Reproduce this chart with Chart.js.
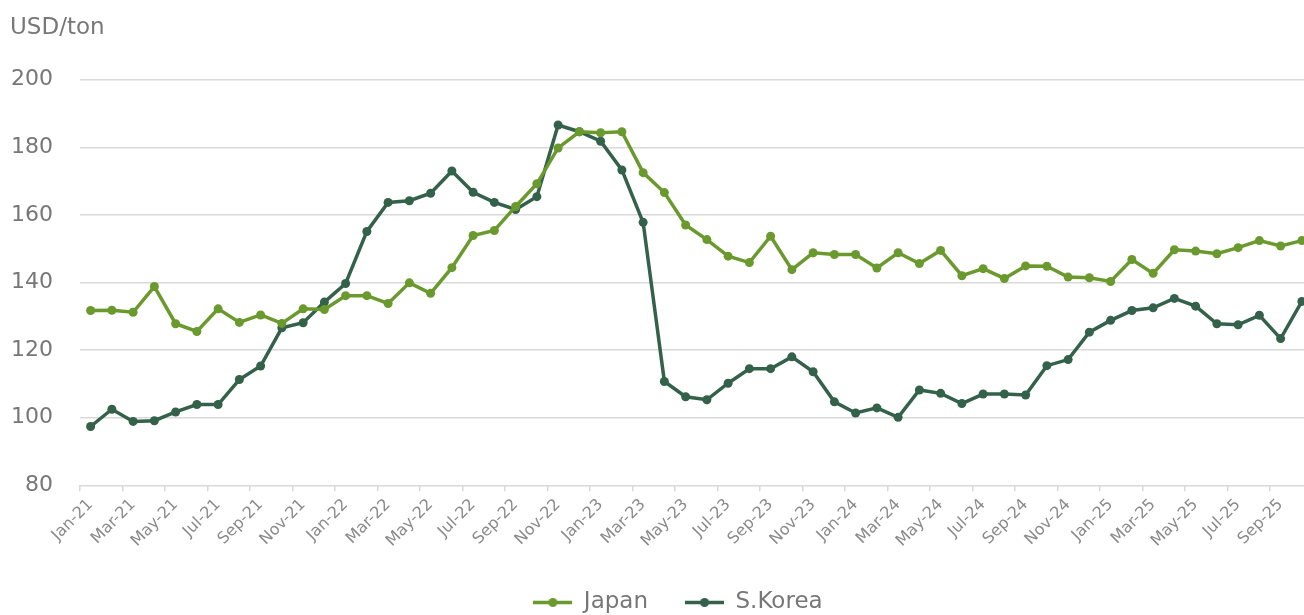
<!DOCTYPE html>
<html>
<head>
<meta charset="utf-8">
<title>Japan vs S.Korea, USD/ton</title>
<script src="https://cdn.jsdelivr.net/npm/chart.js@4"></script>
<style>
  html, body { margin: 0; padding: 0; background: #fff; overflow: hidden; }
  .frame { position: relative; width: 1304px; height: 615px; overflow: hidden; }
  .unit { position: absolute; left: 10px; top: 15px; font: 23px "DejaVu Sans", sans-serif; line-height: 23px; color: #777; }
  canvas { position: absolute; left: 0; top: 0; }
</style>
</head>
<body>
<div class="frame">
  <canvas id="chart" width="1356" height="624"></canvas>
  <div class="unit">USD/ton</div>
</div>
<script>
const MONTHS = [
  "Jan-21", "Feb-21", "Mar-21", "Apr-21", "May-21", "Jun-21", "Jul-21", "Aug-21", "Sep-21", "Oct-21", "Nov-21", "Dec-21",
  "Jan-22", "Feb-22", "Mar-22", "Apr-22", "May-22", "Jun-22", "Jul-22", "Aug-22", "Sep-22", "Oct-22", "Nov-22", "Dec-22",
  "Jan-23", "Feb-23", "Mar-23", "Apr-23", "May-23", "Jun-23", "Jul-23", "Aug-23", "Sep-23", "Oct-23", "Nov-23", "Dec-23",
  "Jan-24", "Feb-24", "Mar-24", "Apr-24", "May-24", "Jun-24", "Jul-24", "Aug-24", "Sep-24", "Oct-24", "Nov-24", "Dec-24",
  "Jan-25", "Feb-25", "Mar-25", "Apr-25", "May-25", "Jun-25", "Jul-25", "Aug-25", "Sep-25", "Oct-25",
];

const JAPAN = [
  131.7, 131.8, 131.2, 138.8, 127.8, 125.5, 132.2, 128.2, 130.4, 127.9, 132.2, 132.0,
  136.1, 136.1, 133.8, 139.9, 136.8, 144.4, 153.9, 155.4, 162.5, 169.2, 179.8, 184.6,
  184.3, 184.6, 172.5, 166.6, 157.0, 152.7, 147.8, 145.9, 153.7, 143.8, 148.8, 148.3,
  148.3, 144.3, 148.8, 145.6, 149.5, 142.0, 144.1, 141.2, 144.9, 144.8, 141.6, 141.4,
  140.3, 146.8, 142.7, 149.7, 149.3, 148.5, 150.3, 152.4, 150.8, 152.4,
];

const KOREA = [
  97.4, 102.5, 98.9, 99.1, 101.7, 103.9, 103.9, 111.3, 115.3, 126.6, 128.1, 134.2,
  139.7, 155.1, 163.7, 164.2, 166.4, 173.0, 166.7, 163.7, 161.6, 165.4, 186.6, 184.6,
  181.8, 173.3, 157.8, 110.7, 106.2, 105.3, 110.2, 114.5, 114.5, 118.0, 113.6, 104.7,
  101.4, 102.9, 100.1, 108.2, 107.2, 104.2, 107.0, 107.0, 106.7, 115.4, 117.2, 125.3,
  128.8, 131.7, 132.5, 135.3, 133.0, 127.8, 127.5, 130.3, 123.4, 134.4,
];

const JAPAN_COLOR = "#6a992e";
const KOREA_COLOR = "#33614a";
const TEXT_COLOR = "#777777";
const GRID_COLOR = "#d9d9d9";
const FONT_FAMILY = '"DejaVu Sans", sans-serif';

// little line-with-dot swatch, like the Excel legend
function legendMarker(color) {
  const marker = document.createElement("canvas");
  marker.width = 39;
  marker.height = 11;
  const ctx = marker.getContext("2d");
  ctx.strokeStyle = color;
  ctx.lineWidth = 3.5;
  ctx.beginPath();
  ctx.moveTo(0, 5.5);
  ctx.lineTo(39, 5.5);
  ctx.stroke();
  ctx.fillStyle = color;
  ctx.beginPath();
  ctx.arc(19.5, 5.5, 4.5, 0, Math.PI * 2);
  ctx.fill();
  return marker;
}

function lineDataset(label, values, color) {
  return {
    label,
    data: values,
    borderColor: color,
    backgroundColor: color,
    borderWidth: 3.5,
    pointRadius: 4.5,
    pointHoverRadius: 5,
    pointBorderWidth: 0,
    pointBackgroundColor: color,
    tension: 0,
    fill: false,
    marker: legendMarker(color),
  };
}

function buildChart() {
  const datasets = [
    lineDataset("Japan", JAPAN, JAPAN_COLOR),
    lineDataset("S.Korea", KOREA, KOREA_COLOR),
  ];

  new Chart(document.getElementById("chart"), {
    type: "line",
    data: { labels: MONTHS, datasets },
    options: {
      responsive: false,
      animation: false,
      layout: { padding: { left: 0, right: 0, top: 79.7, bottom: 0 } },
      scales: {
        x: {
          offset: true,
          border: { display: false },
          grid: {
            offset: true,
            drawOnChartArea: false,
            drawTicks: true,
            tickLength: 6,
            lineWidth: 1.5,
            color: (ctx) => (ctx.index % 2 === 0 ? GRID_COLOR : "rgba(0,0,0,0)"),
          },
          ticks: {
            autoSkip: false,
            minRotation: 45,
            maxRotation: 45,
            padding: 4,
            color: "#8a8a8a",
            font: { family: FONT_FAMILY, size: 16 },
            callback(value, index) {
              return index % 2 === 0 ? this.getLabelForValue(value) : "";
            },
          },
          // the original plot runs a little past the right edge of the picture
          afterFit(scale) {
            scale.height = 68.7;
            scale.paddingRight = 43.5;
          },
        },
        y: {
          min: 80,
          max: 200,
          border: { display: false },
          grid: { color: GRID_COLOR, lineWidth: 1.5, drawTicks: false },
          ticks: {
            stepSize: 20,
            padding: 27,
            color: TEXT_COLOR,
            font: { family: FONT_FAMILY, size: 22 },
          },
          afterFit(scale) { scale.width = 80; },
        },
      },
      plugins: {
        tooltip: { enabled: false },
        legend: {
          position: "bottom",
          labels: {
            usePointStyle: true,
            pointStyleWidth: 39,
            padding: 37,
            color: TEXT_COLOR,
            font: { family: FONT_FAMILY, size: 23 },
            generateLabels(chart) {
              return Chart.defaults.plugins.legend.labels.generateLabels(chart).map((item) => ({
                ...item,
                pointStyle: chart.data.datasets[item.datasetIndex].marker,
              }));
            },
          },
        },
      },
    },
  });
}

document.addEventListener("DOMContentLoaded", buildChart);
</script>
</body>
</html>
